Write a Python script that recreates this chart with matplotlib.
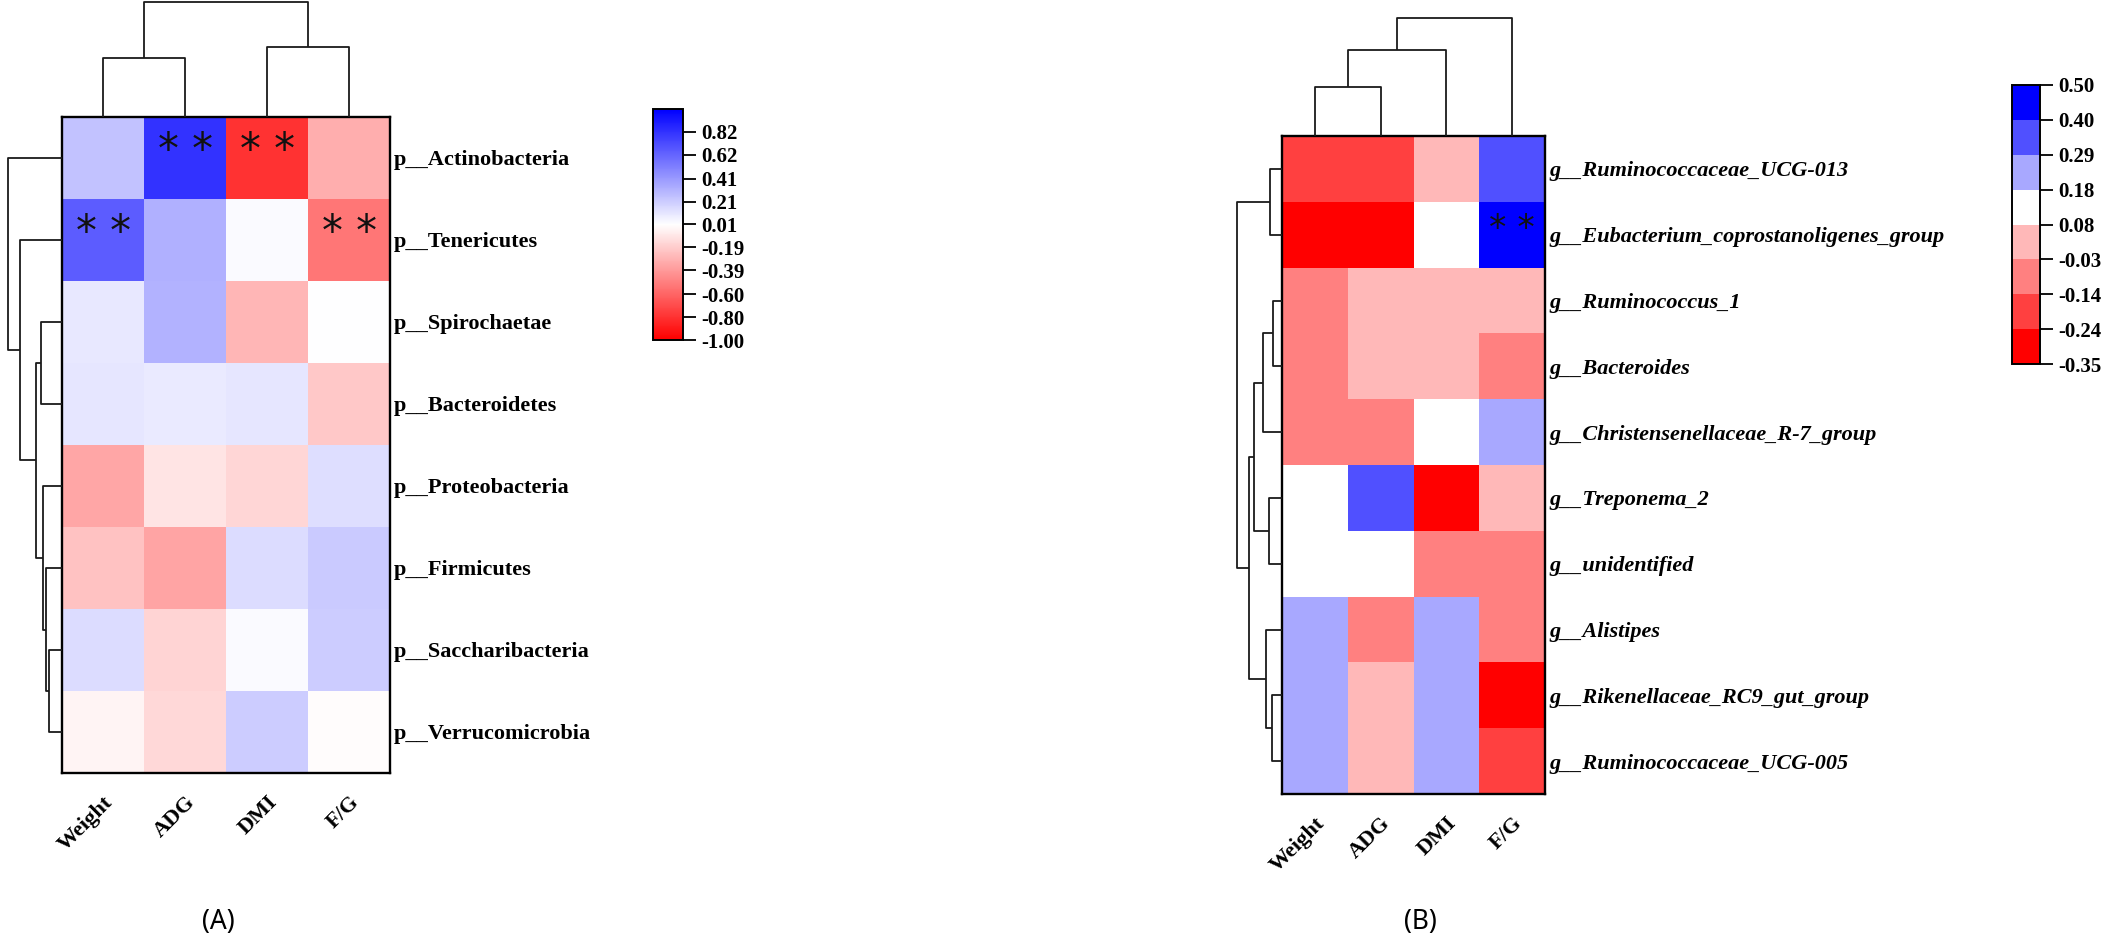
import numpy as np
import matplotlib
matplotlib.use("Agg")
import matplotlib.pyplot as plt
from matplotlib.colors import LinearSegmentedColormap, ListedColormap, BoundaryNorm, Normalize

# ---------------- data ----------------
traits = ['Weight', 'ADG', 'DMI', 'F/G']

phyla = ['p__Actinobacteria', 'p__Tenericutes', 'p__Spirochaetae', 'p__Bacteroidetes',
         'p__Proteobacteria', 'p__Firmicutes', 'p__Saccharibacteria', 'p__Verrucomicrobia']
corr_a = [
    [0.25, 0.82, -0.80, -0.31],
    [0.65, 0.32, 0.03, -0.53],
    [0.10, 0.31, -0.28, 0.01],
    [0.11, 0.09, 0.11, -0.21],
    [-0.34, -0.10, -0.15, 0.14],
    [-0.23, -0.35, 0.15, 0.22],
    [0.15, -0.16, 0.03, 0.21],
    [-0.03, -0.14, 0.21, 0.00],
]
sig_a = [(0, 1), (0, 2), (1, 0), (1, 3)]
ticks_a = [-1.00, -0.80, -0.60, -0.39, -0.19, 0.01, 0.21, 0.41, 0.62, 0.82]

genera = ['g__Ruminococcaceae_UCG-013', 'g__Eubacterium_coprostanoligenes_group',
          'g__Ruminococcus_1', 'g__Bacteroides', 'g__Christensenellaceae_R-7_group',
          'g__Treponema_2', 'g__unidentified', 'g__Alistipes',
          'g__Rikenellaceae_RC9_gut_group', 'g__Ruminococcaceae_UCG-005']
corr_b = [
    [-0.19, -0.19, 0.02, 0.35],
    [-0.30, -0.30, 0.13, 0.45],
    [-0.09, 0.02, 0.02, 0.02],
    [-0.09, 0.02, 0.02, -0.09],
    [-0.09, -0.09, 0.13, 0.23],
    [0.13, 0.35, -0.30, 0.02],
    [0.13, 0.13, -0.09, -0.09],
    [0.23, -0.09, 0.23, -0.09],
    [0.23, 0.02, 0.23, -0.30],
    [0.23, 0.02, 0.23, -0.19],
]
sig_b = [(1, 3)]
bounds_b = [-0.35, -0.24, -0.14, -0.03, 0.08, 0.18, 0.29, 0.40, 0.50]
colors_b = ['#FF0000', '#FF4040', '#FF8080', '#FFB8B8', '#FFFFFF', '#A8A8FF', '#5050FF', '#0000FF']

# dendrogram trees: (height, left, right) ; ints are leaf indices
rowtree_a = (54, 0, (42, 1, (26, (21, 2, 3), (19, 4, (16, 5, (13, 6, 7))))))
coltree_a = (115, (59, 0, 1), (70, 2, 3))
rowtree_b = (45.5, (12.5, 0, 1),
             (32.6, (27.7, (18.75, (8.9, 2, 3), 4), (13.4, 5, 6)),
              (16.5, 7, (10.3, 8, 9))))
coltree_b = (118, (86, (49, 0, 1), 2), 3)

# ---------------- layout helpers ----------------
W, H = 2113, 940
fig = plt.figure(figsize=(W / 100, H / 100), dpi=100)


def fpos(x0, y0, x1, y1):
    return [x0 / W, 1 - y1 / H, (x1 - x0) / W, (y1 - y0) / H]


SERIF = 'Liberation Serif'
LC = '#1a1a1a'


def draw_tree(ax, tree, orient):
    if isinstance(tree, int):
        return tree + 0.5, 0.0
    h, l, r = tree
    pl, hl = draw_tree(ax, l, orient)
    pr, hr = draw_tree(ax, r, orient)
    if orient == 'top':
        ax.plot([pl, pl, pr, pr], [hl, h, h, hr], color=LC, lw=1.3, solid_capstyle='butt')
    else:
        ax.plot([hl, h, h, hr], [pl, pl, pr, pr], color=LC, lw=1.3, solid_capstyle='butt')
    return (pl + pr) / 2, h


def panel(heat_box, coldend_box, rowdend_box, data, rows, cmap, norm, sig,
          italic, star_size, colext, rowext, rowtree, coltree):
    data = np.array(data)
    nr, nc = data.shape
    ax = fig.add_axes(fpos(*heat_box))
    ax.pcolormesh(np.arange(nc + 1), np.arange(nr + 1), data, cmap=cmap, norm=norm,
                  edgecolors='none', antialiased=False)
    ax.set_xlim(0, nc)
    ax.set_ylim(nr, 0)
    for s in ax.spines.values():
        s.set_linewidth(1.7)
        s.set_color('black')
    ax.yaxis.tick_right()
    ax.set_yticks(np.arange(nr) + 0.5)
    ax.set_yticklabels(rows, fontsize=16, fontweight='bold', family=SERIF,
                       style='italic' if italic else 'normal')
    ax.tick_params(axis='y', length=0, pad=3)
    ax.set_xticks(np.arange(nc) + 0.5)
    ax.set_xticklabels(traits, rotation=45, ha='right', va='top', rotation_mode='anchor',
                       fontsize=16, fontweight='bold', family=SERIF)
    ax.tick_params(axis='x', length=0, pad=14)
    for (r, c) in sig:
        ax.text(c + 0.5, r + 0.42, '* *', ha='center', va='center', fontsize=star_size,
                family='DejaVu Sans', color='#111111')

    axc = fig.add_axes(fpos(*coldend_box))
    draw_tree(axc, coltree, 'top')
    axc.set_xlim(0, nc)
    axc.set_ylim(0, colext)
    axc.axis('off')

    axr = fig.add_axes(fpos(*rowdend_box))
    draw_tree(axr, rowtree, 'left')
    axr.set_ylim(nr, 0)
    axr.set_xlim(rowext, 0)
    axr.axis('off')
    return ax


def style_cbar(cb, labels):
    cb.outline.set_linewidth(1.4)
    cb.outline.set_edgecolor('black')
    cb.ax.tick_params(length=9, width=1.3, direction='out', pad=4)
    cb.ax.set_yticklabels(labels, fontsize=15, fontweight='bold', family=SERIF)


# ---------------- panel A ----------------
cmap_a = LinearSegmentedColormap.from_list('rwb', ['#FF0000', '#FFFFFF', '#0000FF'])
norm_a = Normalize(vmin=-1.0, vmax=1.02)
panel((62, 117, 390, 773), (62, 0, 390, 117), (0, 117, 62, 773),
      corr_a, phyla, cmap_a, norm_a, sig_a, False, 30, 117, 62, rowtree_a, coltree_a)

cax_a = fig.add_axes(fpos(653, 109, 683, 340))
sm_a = matplotlib.cm.ScalarMappable(norm=norm_a, cmap=cmap_a)
cb_a = fig.colorbar(sm_a, cax=cax_a, ticks=ticks_a)
style_cbar(cb_a, ['%.2f' % t for t in ticks_a])

# ---------------- panel B ----------------
cmap_b = ListedColormap(colors_b)
norm_b = BoundaryNorm(bounds_b, cmap_b.N)
panel((1282, 136, 1545, 794), (1282, 0, 1545, 136), (1222, 136, 1282, 794),
      corr_b, genera, cmap_b, norm_b, sig_b, True, 25, 136, 60, rowtree_b, coltree_b)

cax_b = fig.add_axes(fpos(2012, 85, 2040, 364))
sm_b = matplotlib.cm.ScalarMappable(norm=norm_b, cmap=cmap_b)
cb_b = fig.colorbar(sm_b, cax=cax_b, ticks=bounds_b, spacing='uniform')
style_cbar(cb_b, ['%.2f' % t for t in bounds_b])

# panel labels
fig.text(218 / W, 1 - 922 / H, '(A)', ha='center', va='center', fontsize=19, family='Noto Sans')
fig.text(1420 / W, 1 - 922 / H, '(B)', ha='center', va='center', fontsize=19, family='Noto Sans')

fig.savefig('out.png', dpi=100, facecolor='white')
